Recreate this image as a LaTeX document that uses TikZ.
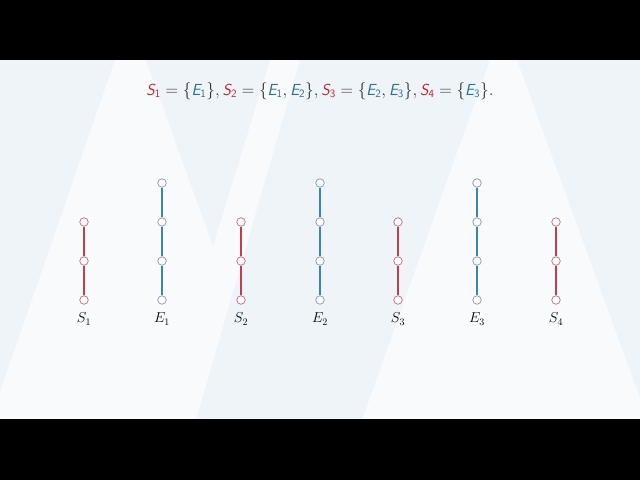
\documentclass[tikz,border=0pt]{standalone}
\usepackage{amsmath}
\definecolor{bgblue}{HTML}{EFF4F8}
\definecolor{bgwhite}{HTML}{F8FAFC}
\definecolor{sred}{HTML}{C23E4E}
\definecolor{eblue}{HTML}{3C86AE}
\definecolor{sredtxt}{HTML}{B82438}
\definecolor{ebluetxt}{HTML}{2A6E90}
\definecolor{scirc}{HTML}{C06A78}
\definecolor{ecirc}{HTML}{8A98A6}
\newcommand\sv[2]{\textsf{\itshape #1}_{\textsf{#2}}}
\newcommand\Sx[1]{\textcolor{sredtxt}{\sv{S}{#1}}}
\newcommand\Ex[1]{\textcolor{ebluetxt}{\sv{E}{#1}}}
\tikzset{
  vtx/.style={circle,draw,line width=0.7pt,fill=bgwhite,inner sep=0pt,minimum size=8.5pt},
  svtx/.style={vtx,draw=scirc},
  evtx/.style={vtx,draw=ecirc},
  sedge/.style={draw=sred,line width=2pt},
  eedge/.style={draw=eblue,line width=2pt},
  lbl/.style={font=\fontsize{14.5}{16}\selectfont,inner sep=0pt}
}
\begin{document}
\begin{tikzpicture}[x=1pt,y=-1pt]
\useasboundingbox (0,0) rectangle (640,480);
% background
\fill[bgblue] (0,60) rectangle (640,420);
\fill[bgwhite] (115,60) -- (300,60) -- (196,420) -- (0,420) -- (0,392) -- cycle;
\fill[bgblue] (146,60) -- (270,60) -- (213,246) -- cycle;
\fill[bgwhite] (490,60) -- (517,60) -- (640,398) -- (640,420) -- (362,420) -- cycle;
\fill[black] (0,0) rectangle (640,60);
\fill[black] (0,419) rectangle (640,480);
% formula
\node[font=\fontsize{16}{18}\selectfont,text=black!80,inner sep=0pt] (formula) at (320,91)
  {$\Sx{1}=\{\Ex{1}\},\Sx{2}=\{\Ex{1},\Ex{2}\},\Sx{3}=\{\Ex{2},\Ex{3}\},\Sx{4}=\{\Ex{3}\}.$};
% S chains
\foreach \i/\x in {1/84,2/241,3/398,4/556}{
  \node[svtx] (s\i a) at (\x,222) {};
  \node[svtx] (s\i b) at (\x,261) {};
  \node[svtx] (s\i c) at (\x,300) {};
  \draw[sedge] (s\i a) -- (s\i b);
  \draw[sedge] (s\i b) -- (s\i c);
  \node[lbl] (ls\i) at (\x,319) {$S_{\i}$};
}
% E chains
\foreach \i/\x in {1/162,2/320,3/477}{
  \node[evtx] (e\i a) at (\x,183) {};
  \node[evtx] (e\i b) at (\x,222) {};
  \node[evtx] (e\i c) at (\x,261) {};
  \node[evtx] (e\i d) at (\x,300) {};
  \draw[eedge] (e\i a) -- (e\i b);
  \draw[eedge] (e\i b) -- (e\i c);
  \draw[eedge] (e\i c) -- (e\i d);
  \node[lbl] (le\i) at (\x,319) {$E_{\i}$};
}
\end{tikzpicture}
\end{document}
